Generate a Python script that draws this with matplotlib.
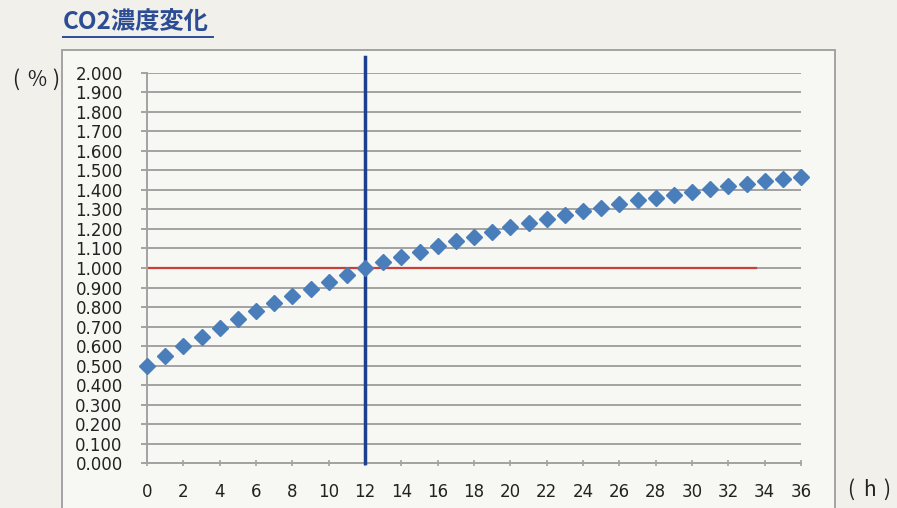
import matplotlib
matplotlib.use("Agg")
import matplotlib.pyplot as plt
from matplotlib.patches import Rectangle
from matplotlib.lines import Line2D

plt.rcParams['font.family'] = ['DejaVu Sans', 'Noto Sans CJK JP']

# elapsed time (h) and CO2 concentration (%)
hours = list(range(0, 37))
co2 = [0.500, 0.549, 0.602, 0.647, 0.691, 0.737, 0.778, 0.819, 0.858, 0.892,
       0.928, 0.963, 1.000, 1.032, 1.055, 1.084, 1.113, 1.140, 1.160, 1.186,
       1.208, 1.232, 1.251, 1.270, 1.292, 1.309, 1.326, 1.347, 1.360, 1.374,
       1.391, 1.406, 1.418, 1.432, 1.445, 1.454, 1.466]

y_ticks = [i / 10 for i in range(0, 21)]
x_ticks = list(range(0, 37, 2))
limit_level = 1.0      # 1% line
limit_end = 33.5
marker_hour = 12

fig = plt.figure(figsize=(8.97, 5.08), dpi=100)
fig.patch.set_facecolor('#f1f0eb')

W, H = 897, 508

# chart frame
frame = Rectangle((62 / W, -0.02), (835 - 62) / W, 1 - 50 / H + 0.02,
                  transform=fig.transFigure, facecolor='#f7f7f3',
                  edgecolor='#a3a3a3', linewidth=1.4, zorder=0)
fig.patches.append(frame)

ax = fig.add_axes([147 / W, 44.7 / H, (801 - 147) / W, (463.3 - 72.7) / H])
ax.set_zorder(2)
ax.set_facecolor('none')

ax.set_xlim(0, 36)
ax.set_ylim(0, 2.0)
ax.set_yticks(y_ticks)
ax.set_yticklabels(['%.3f' % v for v in y_ticks])
ax.set_xticks(x_ticks)

ax.grid(axis='y', color='#a2a2a2', linewidth=1.4)
ax.set_axisbelow(True)

for side in ['top', 'right']:
    ax.spines[side].set_visible(False)
for side in ['left', 'bottom']:
    ax.spines[side].set_color('#a2a2a2')
    ax.spines[side].set_linewidth(1.4)

ax.tick_params(axis='y', direction='out', length=4.5, width=1.4, color='#a2a2a2',
               pad=13, labelsize=12, labelcolor='#222222')
ax.tick_params(axis='x', direction='inout', length=5, width=1.2, color='#a2a2a2',
               pad=12, labelsize=12, labelcolor='#222222')

# 1% reference line
ax.plot([0, limit_end], [limit_level, limit_level], color='#c9403a',
        linewidth=1.6, zorder=2)

# 12 h marker line
ax.plot([marker_hour, marker_hour], [0, 2.08], color='#1d3f8f',
        linewidth=2.5, zorder=3, clip_on=False)

ax.plot(hours, co2, linestyle='none', marker='D', markersize=8,
        color='#4a7ebb', zorder=4, clip_on=False)

# title with underline
fig.text(63 / W, 1 - 22 / H, 'CO2濃度変化', fontsize=17.5, fontweight='bold',
         color='#2c4c94', ha='left', va='center',
         family=['Noto Sans CJK JP', 'DejaVu Sans'])
fig.add_artist(Line2D([63 / W, 213 / W], [1 - 37 / H, 1 - 37 / H],
                      color='#2c4c94', linewidth=1.4))

# unit labels, parentheses spaced wide
unit_font = dict(fontsize=15, color='#222222', ha='center', va='center',
                 family=['Noto Sans CJK JP', 'DejaVu Sans'])
for x, s in [(16, '('), (37, '%'), (56, ')')]:
    fig.text(x / W, 1 - 80 / H, s, **unit_font)
for x, s in [(851, '('), (869, 'h'), (887, ')')]:
    fig.text(x / W, 1 - 490 / H, s, **unit_font)

fig.savefig('out.png', dpi=100, facecolor=fig.get_facecolor())
